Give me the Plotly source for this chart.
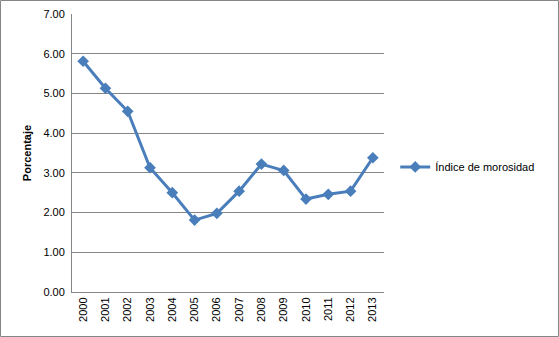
import plotly.graph_objects as go

years = ["2000", "2001", "2002", "2003", "2004", "2005", "2006",
         "2007", "2008", "2009", "2010", "2011", "2012", "2013"]
morosidad = [5.81, 5.13, 4.55, 3.13, 2.50, 1.81, 1.98,
             2.54, 3.22, 3.06, 2.34, 2.46, 2.54, 3.38]
y_ticks = [0, 1, 2, 3, 4, 5, 6, 7]
y_tick_labels = ["0.00", "1.00", "2.00", "3.00", "4.00", "5.00", "6.00", "7.00"]

font = "Liberation Sans, Arial, sans-serif"
blue = "#4A7EBB"

fig = go.Figure()
fig.add_trace(go.Scatter(
    x=years, y=morosidad, mode="lines+markers", name="Índice de morosidad",
    line=dict(color=blue, width=3),
    marker=dict(symbol="diamond", size=9, color=blue),
))

fig.update_layout(
    width=559, height=337,
    margin=dict(l=72, r=175, t=14, b=45, autoexpand=False),
    paper_bgcolor="white", plot_bgcolor="white",
    font=dict(family=font, size=11, color="#000000"),
    showlegend=True,
    legend=dict(x=1.036, y=0.45, xanchor="left", yanchor="middle",
                font=dict(family=font, size=11), bgcolor="rgba(0,0,0,0)",
                itemwidth=30),
    xaxis=dict(
        type="category", range=[-0.5, 13.5], tickangle=-90, automargin=False,
        showgrid=False, showline=True, linecolor="#868686", linewidth=1,
        ticks="", tickfont=dict(size=11), zeroline=False,
    ),
    yaxis=dict(
        range=[0, 7], tickvals=y_ticks, ticktext=y_tick_labels, automargin=False,
        showgrid=True, gridcolor="#868686", gridwidth=1,
        showline=True, linecolor="#868686", linewidth=1,
        ticks="", ticklabelstandoff=4, tickfont=dict(size=11),
        zeroline=False,
        title=dict(text="<b>Porcentaje</b>", font=dict(size=11), standoff=9),
    ),
    shapes=[dict(type="rect", xref="paper", yref="paper",
                 x0=-71.5/312, x1=1 + 174.5/312,
                 y0=-44.5/278, y1=1 + 13.5/278,
                 line=dict(color="#868686", width=1))],
)

fig.write_html("out.html", config={"displayModeBar": False},
               post_script="document.body.style.margin='0px';")
